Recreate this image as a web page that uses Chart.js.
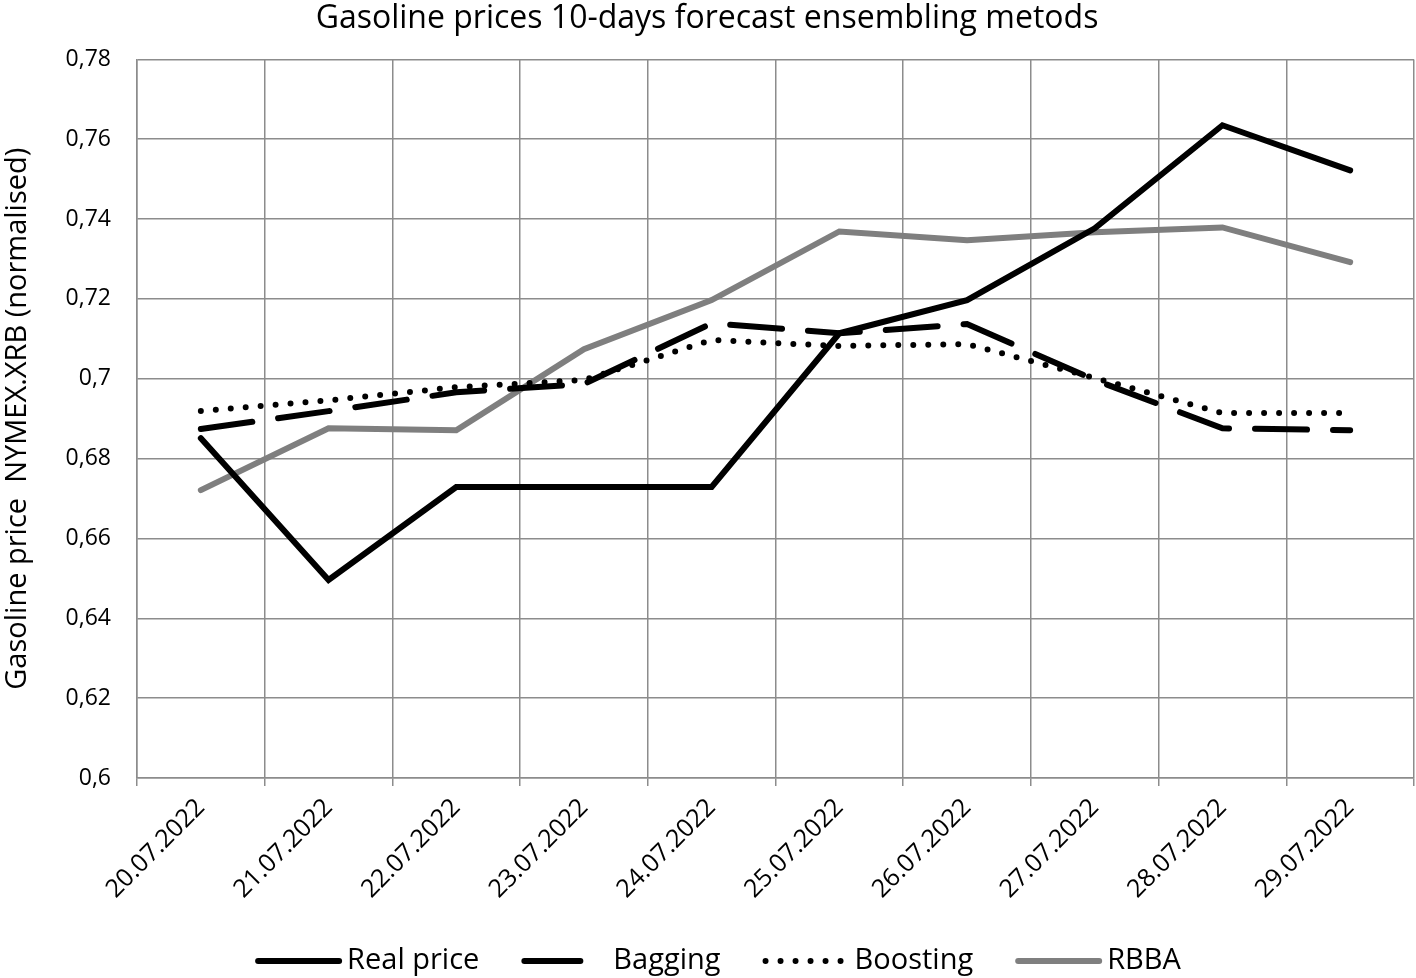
<!DOCTYPE html>
<html>
<head>
<meta charset="utf-8">
<script src="https://cdn.jsdelivr.net/npm/chart.js@4/dist/chart.umd.min.js"></script>
<style>
  html, body { margin:0; padding:0; background:#fff; }
  #wrap { width:1416px; height:978px; }
</style>
</head>
<body>
<div id="wrap"><canvas id="chart" width="1416" height="978"></canvas></div>
<script>
// Dates
const days = ["20.07.2022","21.07.2022","22.07.2022","23.07.2022","24.07.2022",
              "25.07.2022","26.07.2022","27.07.2022","28.07.2022","29.07.2022"];

// Series
const realPrice = [0.6851,0.6496,0.6729,0.6729,0.6729,0.7114,0.7197,0.7377,0.7635,0.7522];
const bagging   = [0.6874,0.6919,0.6966,0.6987,0.7139,0.7114,0.7137,0.6997,0.6876,0.6871];
const boosting  = [0.6919,0.6946,0.6979,0.6997,0.7097,0.7082,0.7087,0.7002,0.6914,0.6914];
const rbba      = [0.6721,0.6876,0.6871,0.7074,0.7197,0.7369,0.7347,0.7367,0.7379,0.7292];

// Axis
const yMin = 0.6, yMax = 0.78, yStep = 0.02;

const FONT = "'Open Sans', 'Noto Sans', sans-serif";
const GRID = '#8c8c8c';

// legend drawn by hand so the dash / dot samples come out right
const bottomLegend = {
  id: 'bottomLegend',
  afterDraw(chart) {
    const c = chart.ctx;
    const y = 961, sw = 87, gap = 5, space = 42;
    c.save();
    c.font = '29px ' + FONT;
    const items = chart.data.datasets.map(ds => ({ ds, tw: c.measureText(ds.label).width }));
    const total = items.reduce((s, it) => s + sw + gap + it.tw, 0) + space * (items.length - 1);
    let x = chart.width / 2 + 10 - total / 2;
    items.forEach(({ ds, tw }) => {
      c.strokeStyle = ds.borderColor;
      c.lineWidth = ds.borderWidth;
      c.lineCap = 'round';
      c.setLineDash(ds.legendDash || []);
      c.beginPath();
      c.moveTo(x + 3, y);
      c.lineTo(x + sw - 3, y);
      c.stroke();
      c.setLineDash([]);
      c.fillStyle = '#000';
      c.textBaseline = 'middle';
      c.fillText(ds.label, x + sw + gap, y);
      x += sw + gap + tw + space;
    });
    c.restore();
  }
};

const ctx = document.getElementById('chart').getContext('2d');
new Chart(ctx, {
  type: 'line',
  data: {
    labels: days,
    datasets: [
      { label:'Real price', data:realPrice, borderColor:'#000', borderWidth:6, borderCapStyle:'round' },
      { label:'Bagging', data:bagging, borderColor:'#000', borderWidth:6, borderDash:[52,26], borderCapStyle:'round', legendDash:[56,200] },
      { label:'Boosting', data:boosting, borderColor:'#000', borderWidth:6, borderDash:[0,15], borderCapStyle:'round', legendDash:[0,15] },
      { label:'RBBA', data:rbba, borderColor:'#7f7f7f', borderWidth:6, borderCapStyle:'round' }
    ]
  },
  options: {
    responsive: false,
    animation: false,
    elements: { point: { radius: 0 }, line: { tension: 0 } },
    layout: { padding: { left: 0, right: 2, top: 0, bottom: 60 } },
    plugins: {
      title: {
        display: true,
        text: 'Gasoline prices 10-days forecast ensembling metods',
        color: '#000',
        font: { family: FONT, size: 32, weight: 'normal' },
        padding: { top: 0, bottom: 21 }
      },
      legend: { display: false },
      tooltip: { enabled: false }
    },
    scales: {
      x: {
        offset: true,
        grid: { offset: true, color: GRID, lineWidth: 1.5, tickLength: 8, tickColor: GRID },
        border: { color: GRID, width: 1.5 },
        ticks: {
          color: '#000',
          font: { family: FONT, size: 25 },
          minRotation: 45, maxRotation: 45,
          padding: 7
        },
        afterFit: s => { s.height = 140; }
      },
      y: {
        min: yMin, max: yMax,
        grid: { color: GRID, lineWidth: 1.5, drawTicks: false },
        border: { color: GRID, width: 1.5 },
        ticks: {
          stepSize: yStep,
          color: '#000',
          font: { family: FONT, size: 23 },
          padding: 26,
          callback: v => String(Math.round(v * 100) / 100).replace('.', ',')
        },
        title: {
          display: true,
          text: 'Gasoline price  NYMEX.XRB (normalised)',
          color: '#000',
          font: { family: FONT, size: 29 },
          padding: { top: 0, bottom: 0 }
        },
        afterFit: s => { s.width = 137; }
      }
    }
  },
  plugins: [bottomLegend]
});
</script>
</body>
</html>
